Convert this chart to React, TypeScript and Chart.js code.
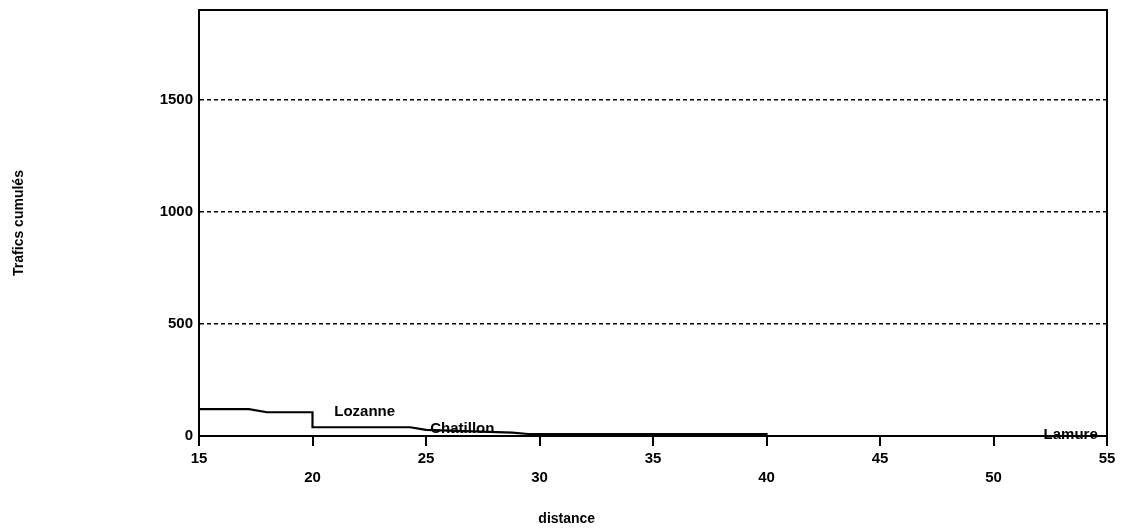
import { useEffect, useRef } from 'react';
import { Chart, registerables } from 'chart.js';

Chart.register(...registerables);

// distance (km) and cumulative traffic read from the profile
const distances = [15, 17.2, 18, 20, 20, 24.3, 25, 28.8, 29.5, 40, 40, 55];
const trafics = [120, 120, 106, 106, 39, 39, 27, 15, 9, 9, 0, 0];

const xTickValues = [15, 20, 25, 30, 35, 40, 45, 50, 55];
const yTickValues = [0, 500, 1000, 1500];

const stationNames = ['Lozanne', 'Chatillon', 'Lamure'];
const stationDistances = [22.3, 26.6, 53.4];
const stationTrafics = [106, 34, 4];

const yTitle = 'Trafics cumulés';
const xTitle = 'distance';

const FONT = "'Liberation Sans', Arial, Helvetica, sans-serif";

const framePlugin = {
  id: 'frameAndLabels',
  afterDraw(chart: any) {
    const { ctx, chartArea, scales } = chart;
    const { left, right, top, bottom } = chartArea;
    ctx.save();
    ctx.strokeStyle = '#000';
    ctx.lineWidth = 2;
    ctx.beginPath();
    ctx.moveTo(left - 1, top);
    ctx.lineTo(right, top);
    ctx.lineTo(right, bottom + 1);
    ctx.stroke();

    ctx.fillStyle = '#000';
    ctx.font = `bold 15px ${FONT}`;
    ctx.textAlign = 'center';
    ctx.textBaseline = 'middle';
    stationNames.forEach((name, i) => {
      const x = scales.x.getPixelForValue(stationDistances[i]);
      const y = scales.y.getPixelForValue(stationTrafics[i]);
      ctx.fillText(name, x, y);
    });

    ctx.font = `bold 14px ${FONT}`;
    ctx.fillText(xTitle, left + (right - left) * 0.405, 519);
    ctx.restore();
  },
};

export default function App() {
  const canvasRef = useRef<HTMLCanvasElement | null>(null);

  useEffect(() => {
    if (!canvasRef.current) return;
    const points = distances.map((d, i) => ({ x: d, y: trafics[i] }));
    const chart = new Chart(canvasRef.current, {
      type: 'line',
      data: {
        datasets: [
          {
            data: points,
            borderColor: '#000',
            borderWidth: 2.2,
            pointRadius: 0,
            tension: 0,
            fill: false,
            clip: 6,
          } as any,
        ],
      },
      options: {
        animation: false,
        responsive: true,
        maintainAspectRatio: false,
        layout: { padding: { top: 10, right: 14, bottom: 0, left: 0 } },
        plugins: {
          legend: { display: false },
          tooltip: { enabled: false },
        },
        scales: {
          x: {
            type: 'linear',
            position: 'bottom',
            min: 15,
            max: 55,
            afterBuildTicks: (scale: any) => {
              scale.ticks = xTickValues.map((v) => ({ value: v }));
            },
            afterFit: (scale: any) => {
              scale.height = 92;
            },
            ticks: {
              autoSkip: false,
              maxRotation: 0,
              minRotation: 0,
              color: '#000',
              padding: 3,
              font: { family: FONT, size: 15, weight: 'bold', lineHeight: 1.3 },
              callback: (v: any, i: number) => (i % 2 === 0 ? String(v) : ['', String(v)]),
            },
            grid: {
              drawOnChartArea: false,
              drawTicks: true,
              tickLength: 10,
              color: '#000',
              lineWidth: 2,
            },
            border: { display: true, color: '#000', width: 2 },
          },
          y: {
            type: 'linear',
            position: 'left',
            min: 0,
            max: 1900,
            afterBuildTicks: (scale: any) => {
              scale.ticks = yTickValues.map((v) => ({ value: v }));
            },
            afterFit: (scale: any) => {
              scale.width = 199;
              scale.paddingTop = 0;
            },
            ticks: {
              color: '#000',
              padding: 6,
              font: { family: FONT, size: 15, weight: 'bold' },
              callback: (v: any) => String(v),
            },
            grid: {
              drawTicks: false,
              color: (c: any) => (c.tick && c.tick.value === 0 ? 'rgba(0,0,0,0)' : '#000'),
              lineWidth: 1.5,
            },
            border: { display: true, color: '#000', width: 2, dash: [4, 3] },
            title: {
              display: true,
              text: yTitle,
              color: '#000',
              font: { family: FONT, size: 14, weight: 'bold' },
              padding: { top: 11, bottom: 0 },
            },
          },
        },
      },
      plugins: [framePlugin],
    });
    return () => chart.destroy();
  }, []);

  return (
    <div style={{ position: 'fixed', left: 0, top: 0, width: 1121, height: 528, background: '#fff' }}>
      <canvas ref={canvasRef} />
    </div>
  );
}
